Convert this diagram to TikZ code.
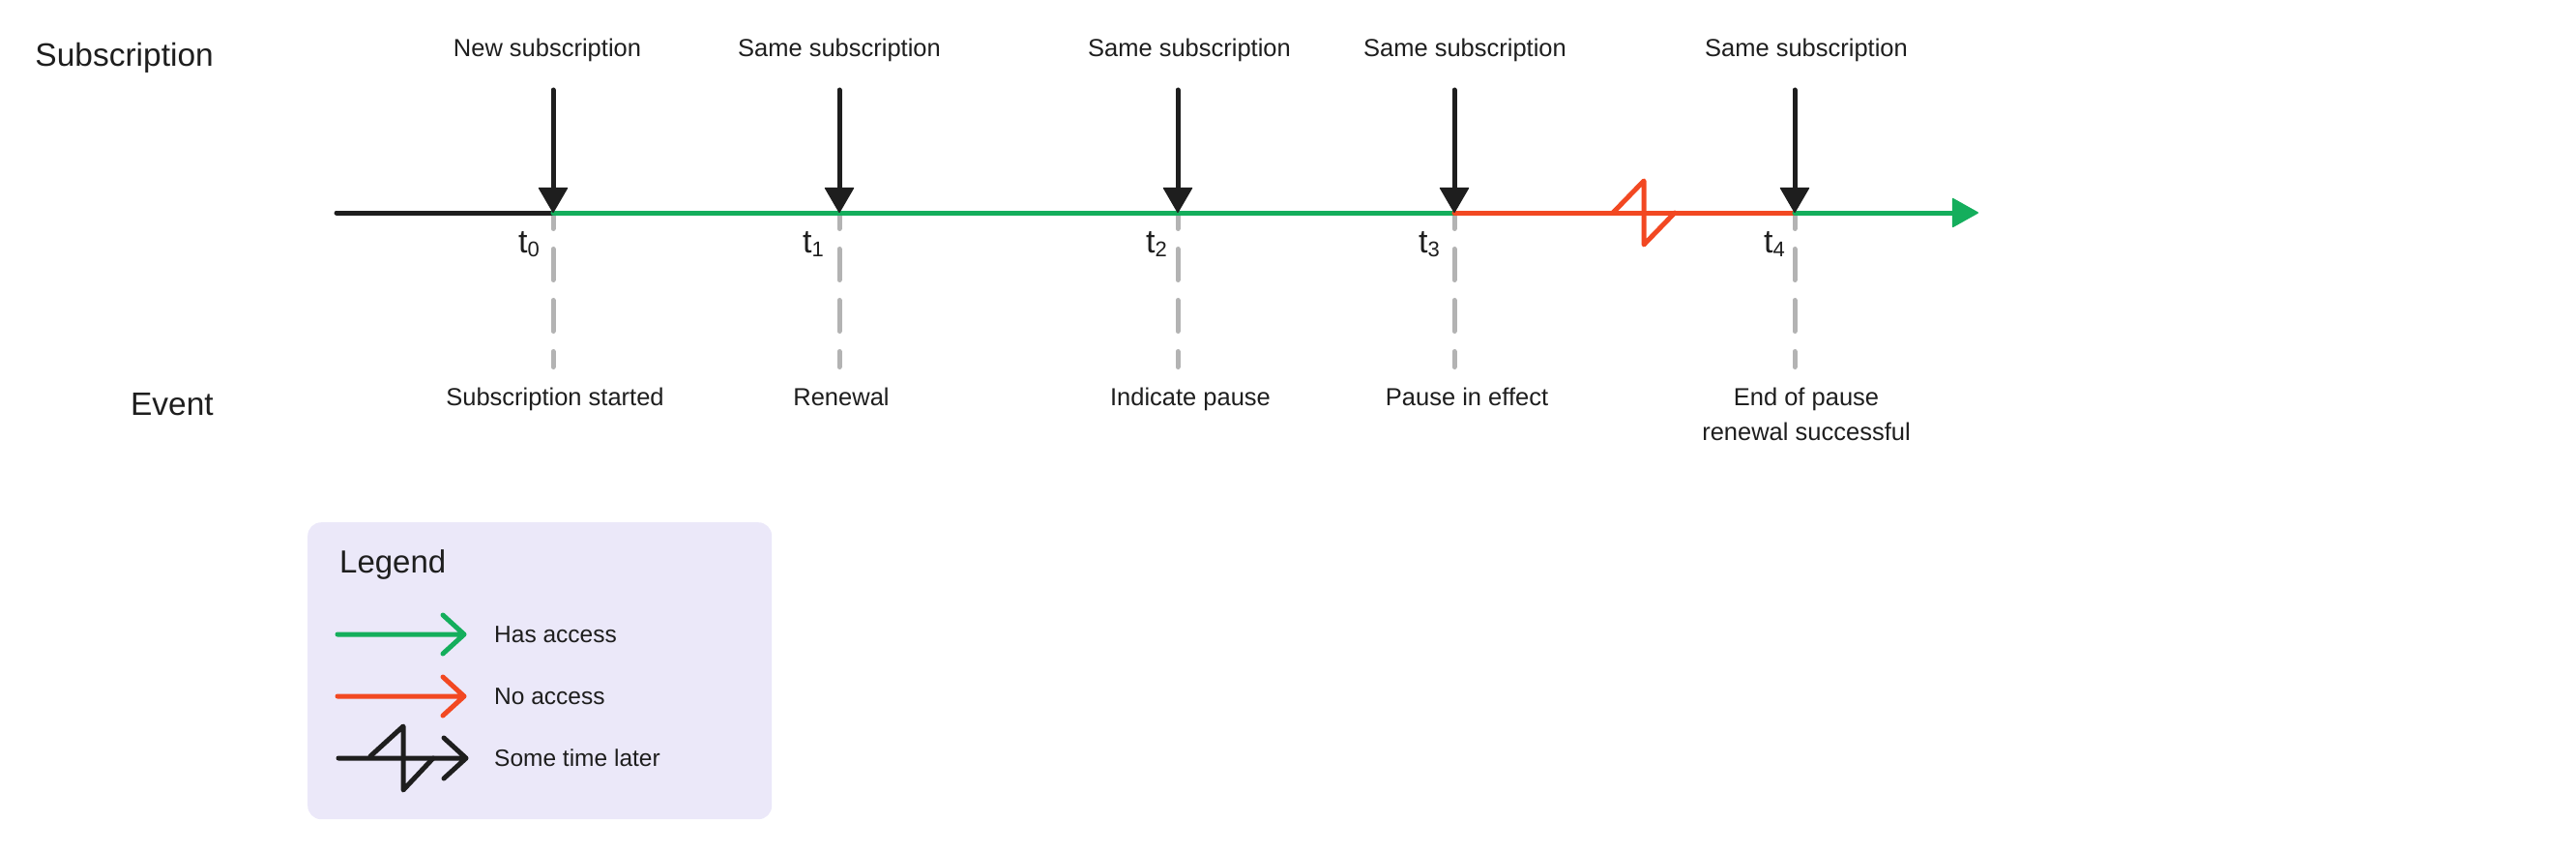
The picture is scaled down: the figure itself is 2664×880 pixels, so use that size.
\documentclass[tikz,border=0pt]{standalone}
\usepackage{fontspec}
\setmainfont{Liberation Sans}
\usetikzlibrary{arrows.meta}
\definecolor{ink}{HTML}{1E1E1E}
\definecolor{acc}{HTML}{14AE5C}
\definecolor{noacc}{HTML}{F24822}
\definecolor{gline}{HTML}{B3B3B3}
\definecolor{legbg}{HTML}{EBE8F9}
\begin{document}
\begin{tikzpicture}[x=1pt,y=-1pt,
  lbl/.style={font=\fontsize{25.5}{30}\selectfont, text=ink, inner sep=0pt, anchor=base},
  headlbl/.style={font=\fontsize{33.5}{40}\selectfont, text=ink, inner sep=0pt},
  tlab/.style={font=\fontsize{34}{38}\selectfont, text=ink, inner sep=0pt, anchor=base east},
  legtxt/.style={font=\fontsize{24.5}{30}\selectfont, text=ink, inner sep=0pt, anchor=base west},
  tline/.style={line width=5pt, line cap=round},
  evarrow/.style={line width=5pt, draw=ink, line cap=round, -{Triangle[length=27pt,width=31pt,line width=1.5pt,round]}},
  guide/.style={line width=5pt, draw=gline, line cap=round, dash pattern=on 32pt off 21pt, dash phase=15.5pt},
  legline/.style={line width=5pt, line cap=round, line join=round}
]
\useasboundingbox (0,0) rectangle (2664,880);

% timeline coordinates
\coordinate (start) at (348,220);
\coordinate (t0) at (572,220);
\coordinate (t1) at (868,220);
\coordinate (t2) at (1218,220);
\coordinate (t3) at (1504,220);
\coordinate (t4) at (1856,220);
\coordinate (end) at (2046,220);
\foreach \i/\x in {0/572,1/868,2/1218,3/1504,4/1856}{
  \coordinate (a\i) at (\x,93);
  \coordinate (g\i) at (\x,379.5);
}

% side headings
\node[headlbl, anchor=base east] (hsub) at (221,69) {Subscription};
\node[headlbl, anchor=base east] (hevt) at (221,429) {Event};

% dashed guides
\foreach \i in {0,...,4}{ \draw[guide] (t\i) -- (g\i); }

% timeline
\draw[tline, draw=ink] (start) -- (t0);
\draw[tline, draw=acc] (t0) -- (t3);
\draw[tline, draw=noacc] (t3) -- (t4);
\draw[tline, draw=acc, -{Triangle[length=28pt,width=31pt,line width=1.5pt,round]}] (t4) -- (end);

% break mark on the red segment
\draw[legline, draw=noacc] (1668,220) -- (1700,187) -- (1700,253) -- (1732,220);

% event arrows
\foreach \i in {0,...,4}{ \draw[evarrow] (a\i) -- (t\i); }

% top labels
\node[lbl] (s0) at (566,59) {New subscription};
\node[lbl] (s1) at (868,59) {Same subscription};
\node[lbl] (s2) at (1230,59) {Same subscription};
\node[lbl] (s3) at (1515,59) {Same subscription};
\node[lbl] (s4) at (1868,59) {Same subscription};

% t labels
\node[tlab] (l0) at (558,261) {t\raisebox{-4pt}{\fontsize{22}{22}\selectfont 0}};
\node[tlab] (l1) at (852,261) {t\raisebox{-4pt}{\fontsize{22}{22}\selectfont 1}};
\node[tlab] (l2) at (1207,261) {t\raisebox{-4pt}{\fontsize{22}{22}\selectfont 2}};
\node[tlab] (l3) at (1489,261) {t\raisebox{-4pt}{\fontsize{22}{22}\selectfont 3}};
\node[tlab] (l4) at (1846,261) {t\raisebox{-4pt}{\fontsize{22}{22}\selectfont 4}};

% bottom labels
\node[lbl] (e0) at (574,419) {Subscription started};
\node[lbl] (e1) at (870,419) {Renewal};
\node[lbl] (e2) at (1231,419) {Indicate pause};
\node[lbl] (e3) at (1517,419) {Pause in effect};
\node[lbl] (e4) at (1868,419) {End of pause};
\node[lbl] (e4b) at (1868,455) {renewal successful};

% legend
\node[fill=legbg, rounded corners=14pt, minimum width=480pt, minimum height=307pt,
      inner sep=0pt, anchor=north west] (legend) at (318,540) {};
\node[headlbl, anchor=base west, font=\fontsize{33}{40}\selectfont] (legtitle) at (351,592) {Legend};

\coordinate (h1) at (349,656); \coordinate (h2) at (480,656);
\coordinate (n1) at (349,720); \coordinate (n2) at (480,720);
\coordinate (m1) at (350,784); \coordinate (m2) at (482,784);

\draw[legline, draw=acc] (h1) -- (h2) (458,636) -- (h2) -- (458,676);
\draw[legline, draw=noacc] (n1) -- (n2) (458,700) -- (n2) -- (458,740);
\draw[legline, draw=ink] (m1) -- (m2) (459,763) -- (m2) -- (459,805);
\draw[legline, draw=ink] (383,782) -- (417,751) -- (417,817) -- (448,784);

\node[legtxt] (lt1) at (511,664) {Has access};
\node[legtxt] (lt2) at (511,728) {No access};
\node[legtxt] (lt3) at (511,792) {Some time later};
\end{tikzpicture}
\end{document}
